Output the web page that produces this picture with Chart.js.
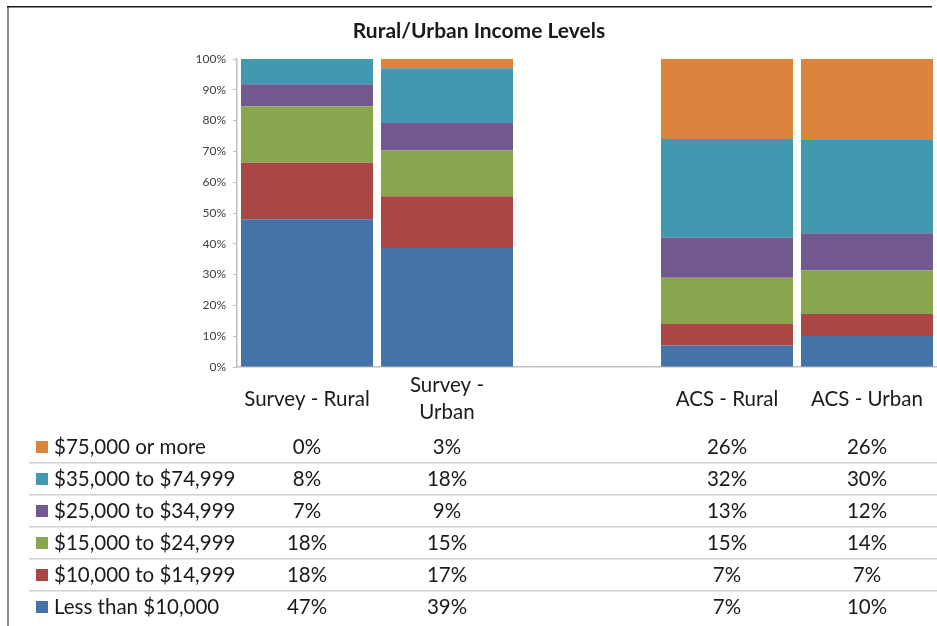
<!DOCTYPE html>
<html>
<head>
<meta charset="utf-8">
<script src="https://cdn.jsdelivr.net/npm/chart.js@4.4.0/dist/chart.umd.min.js"></script>
<style>
  html, body { margin: 0; padding: 0; background: #fff; }
  #wrap { position: relative; width: 937px; height: 626px; }
</style>
</head>
<body>
<div id="wrap"><canvas id="chart" width="937" height="626"></canvas></div>
<script>
// Categories (empty string = the gap column between the two sources)
const categories = ['Survey - Rural', 'Survey - Urban', '', 'ACS - Rural', 'ACS - Urban'];
const headerLines = [['Survey - Rural'], ['Survey -', 'Urban'], [], ['ACS - Rural'], ['ACS - Urban']];
const yTicks = [0, 10, 20, 30, 40, 50, 60, 70, 80, 90, 100];

// Series, bottom of the stack first (values as shown in the data table)
const lessThan10k = [47, 39, null, 7, 10];
const from10kTo15k = [18, 17, null, 7, 7];
const from15kTo25k = [18, 15, null, 15, 14];
const from25kTo35k = [7, 9, null, 13, 12];
const from35kTo75k = [8, 18, null, 32, 30];
const over75k = [0, 3, null, 26, 26];

const seriesNames = ['Less than $10,000', '$10,000 to $14,999', '$15,000 to $24,999',
                     '$25,000 to $34,999', '$35,000 to $74,999', '$75,000 or more'];
const seriesValues = [lessThan10k, from10kTo15k, from15kTo25k, from25kTo35k, from35kTo75k, over75k];
const seriesColors = ['#4572a7', '#aa4643', '#89a54e', '#71588f', '#4198af', '#db843d'];

// 100% stacked: each column is scaled by its own total
const totals = categories.map((c, i) => seriesValues.reduce((s, arr) => s + (arr[i] || 0), 0));
const datasets = seriesValues.map((arr, k) => ({
    label: seriesNames[k],
    data: arr.map((v, i) => v === null ? null : v / totals[i] * 100),
    backgroundColor: seriesColors[k],
    borderWidth: 0,
    categoryPercentage: 1,
    barPercentage: 0.943
}));

const FONT = 'Lato, "Open Sans", sans-serif';

const frameAndTable = {
    id: 'frameAndTable',
    beforeDraw(chart) {
        const ctx = chart.ctx;
        ctx.save();
        ctx.fillStyle = '#fff';
        ctx.fillRect(0, 0, chart.width, chart.height);
        // outer frame (left and top edge)
        ctx.fillStyle = '#8c8c8c';
        ctx.fillRect(7, 6, 2, chart.height - 6);
        ctx.fillStyle = '#1a1a1a';
        ctx.fillRect(7, 6, 925, 1.5);
        ctx.restore();
    },
    afterDraw(chart) {
        const ctx = chart.ctx;
        const x = chart.scales.x;
        ctx.save();
        // title
        ctx.fillStyle = '#1a1a1a';
        ctx.font = 'bold 21px ' + FONT;
        ctx.textAlign = 'center';
        ctx.textBaseline = 'middle';
        ctx.fillText('Rural/Urban Income Levels', 479, 31);

        // column headers
        ctx.font = '20.5px ' + FONT;
        ctx.fillStyle = '#1a1a1a';
        headerLines.forEach((lines, i) => {
            const cx = x.getPixelForValue(i);
            if (lines.length === 1) {
                ctx.fillText(lines[0], cx, 399);
            } else if (lines.length === 2) {
                ctx.fillText(lines[0], cx, 385);
                ctx.fillText(lines[1], cx, 412);
            }
        });

        // table rows, top row = top of the stack
        const rowY0 = 447, rowH = 32;
        for (let r = 0; r < seriesNames.length; r++) {
            const k = seriesNames.length - 1 - r;
            const cy = rowY0 + r * rowH;
            if (r > 0) {
                ctx.fillStyle = '#cfcfcf';
                ctx.fillRect(29, cy - 17, chart.width - 29, 1.5);
            }
            ctx.fillStyle = seriesColors[k];
            ctx.fillRect(36, cy - 6, 12, 12);
            ctx.fillStyle = '#1a1a1a';
            ctx.textAlign = 'left';
            ctx.fillText(seriesNames[k], 54, cy);
            ctx.textAlign = 'center';
            seriesValues[k].forEach((v, i) => {
                if (v === null) return;
                ctx.fillText(v + '%', x.getPixelForValue(i), cy);
            });
        }
        ctx.restore();
    }
};

new Chart(document.getElementById('chart'), {
    type: 'bar',
    data: { labels: categories, datasets: datasets },
    plugins: [frameAndTable],
    options: {
        responsive: false,
        animation: false,
        layout: { padding: { left: 0, right: 0, top: 59, bottom: 259 } },
        plugins: {
            legend: { display: false },
            tooltip: { enabled: false }
        },
        scales: {
            x: {
                stacked: true,
                grid: { display: false },
                border: { display: true, color: '#bfbfbf', width: 1.5 },
                ticks: { display: false },
                afterFit(scale) { scale.height = 0; }
            },
            y: {
                stacked: true,
                min: 0,
                max: 100,
                afterBuildTicks(scale) { scale.ticks = yTicks.map(v => ({ value: v })); },
                afterFit(scale) { scale.width = 237; },
                grid: { drawOnChartArea: false, drawTicks: true, tickLength: 4, color: '#bfbfbf' },
                border: { display: true, color: '#bfbfbf', width: 1.5 },
                ticks: {
                    padding: 7,
                    color: '#404040',
                    font: { family: FONT, size: 12 },
                    callback: v => v + '%'
                }
            }
        }
    }
});
</script>
</body>
</html>
